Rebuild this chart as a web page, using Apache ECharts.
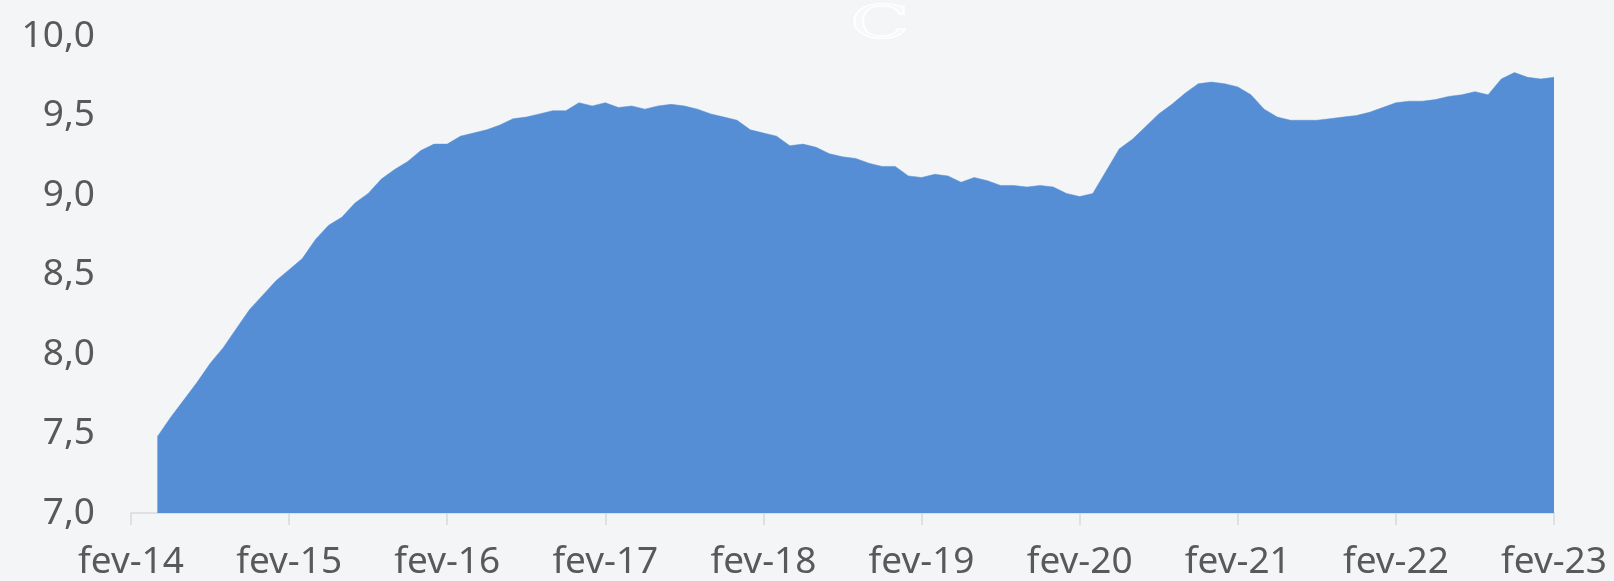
<!DOCTYPE html>
<html lang="pt">
<head>
    <meta charset="UTF-8">
    <title>Série mensal</title>
    <script src="https://cdn.jsdelivr.net/npm/echarts@6.0.0/dist/echarts.min.js"></script>
    <style>
        html, body {
            margin: 0;
            padding: 0;
            background: #f4f5f7;
        }
        #grafico {
            width: 1614px;
            height: 581px;
        }
    </style>
</head>
<body>
    <div id="grafico"></div>

    <script>
        // meses (eixo x), fev-14 a fev-23
        const meses = [
            'fev-14','mar-14','abr-14','mai-14','jun-14','jul-14','ago-14','set-14','out-14','nov-14','dez-14','jan-15',
            'fev-15','mar-15','abr-15','mai-15','jun-15','jul-15','ago-15','set-15','out-15','nov-15','dez-15','jan-16',
            'fev-16','mar-16','abr-16','mai-16','jun-16','jul-16','ago-16','set-16','out-16','nov-16','dez-16','jan-17',
            'fev-17','mar-17','abr-17','mai-17','jun-17','jul-17','ago-17','set-17','out-17','nov-17','dez-17','jan-18',
            'fev-18','mar-18','abr-18','mai-18','jun-18','jul-18','ago-18','set-18','out-18','nov-18','dez-18','jan-19',
            'fev-19','mar-19','abr-19','mai-19','jun-19','jul-19','ago-19','set-19','out-19','nov-19','dez-19','jan-20',
            'fev-20','mar-20','abr-20','mai-20','jun-20','jul-20','ago-20','set-20','out-20','nov-20','dez-20','jan-21',
            'fev-21','mar-21','abr-21','mai-21','jun-21','jul-21','ago-21','set-21','out-21','nov-21','dez-21','jan-22',
            'fev-22','mar-22','abr-22','mai-22','jun-22','jul-22','ago-22','set-22','out-22','nov-22','dez-22','jan-23',
            'fev-23'
        ];

        // valores (série começa em abr-14)
        const valores = [
            null, null, 7.48, 7.60, 7.71, 7.82, 7.94, 8.04, 8.16, 8.28, 8.37, 8.46,
            8.53, 8.60, 8.72, 8.81, 8.86, 8.95, 9.01, 9.10, 9.16, 9.21, 9.28, 9.32,
            9.32, 9.37, 9.39, 9.41, 9.44, 9.48, 9.49, 9.51, 9.53, 9.53, 9.58, 9.56,
            9.58, 9.55, 9.56, 9.54, 9.56, 9.57, 9.56, 9.54, 9.51, 9.49, 9.47, 9.41,
            9.39, 9.37, 9.31, 9.32, 9.30, 9.26, 9.24, 9.23, 9.20, 9.18, 9.18, 9.12,
            9.11, 9.13, 9.12, 9.08, 9.11, 9.09, 9.06, 9.06, 9.05, 9.06, 9.05, 9.01,
            8.99, 9.01, 9.15, 9.29, 9.35, 9.43, 9.51, 9.57, 9.64, 9.70, 9.71, 9.70,
            9.68, 9.63, 9.54, 9.49, 9.47, 9.47, 9.47, 9.48, 9.49, 9.50, 9.52, 9.55,
            9.58, 9.59, 9.59, 9.60, 9.62, 9.63, 9.65, 9.63, 9.73, 9.77, 9.74, 9.73,
            9.74
        ];

        // rótulos mostrados no eixo x
        const rotulosX = ['fev-14','fev-15','fev-16','fev-17','fev-18','fev-19','fev-20','fev-21','fev-22','fev-23'];

        const fonte = '"Noto Sans", sans-serif';
        const corTexto = '#595959';

        const chart = echarts.init(document.getElementById('grafico'));
        chart.setOption({
            backgroundColor: '#f4f5f7',
            animation: false,
            grid: { left: 131, right: 60, top: 36, bottom: 65.5 },
            // marca d'água clara no topo (só contorno)
            graphic: [{
                type: 'text',
                x: 850,
                y: 3,
                scaleX: 1.7,
                style: {
                    text: 'C',
                    font: '46px "DejaVu Serif"',
                    fill: 'rgba(255,255,255,0.35)',
                    stroke: '#ffffff',
                    lineWidth: 1.2
                }
            }],
            xAxis: {
                type: 'category',
                data: meses,
                boundaryGap: false,
                axisLine: { lineStyle: { color: '#d9d9d9', width: 1.5 } },
                axisTick: {
                    length: 12,
                    interval: (i, v) => rotulosX.includes(v),
                    lineStyle: { color: '#d9d9d9', width: 1.5 }
                },
                axisLabel: {
                    interval: (i, v) => rotulosX.includes(v),
                    margin: 31,
                    color: corTexto,
                    fontFamily: fonte,
                    fontSize: 37
                },
                splitLine: { show: false }
            },
            yAxis: {
                type: 'value',
                min: 7,
                max: 10,
                interval: 0.5,
                axisLine: { show: false },
                axisTick: { show: false },
                splitLine: { show: false },
                axisLabel: {
                    margin: 36,
                    color: corTexto,
                    fontFamily: fonte,
                    fontSize: 37,
                    formatter: v => v.toFixed(1).replace('.', ',')
                }
            },
            series: [{
                type: 'line',
                data: valores,
                showSymbol: false,
                connectNulls: false,
                lineStyle: { width: 0.5, color: '#558ed5' },
                areaStyle: { color: '#558ed5', opacity: 1 },
                z: 1
            }]
        });
    </script>
</body>
</html>
